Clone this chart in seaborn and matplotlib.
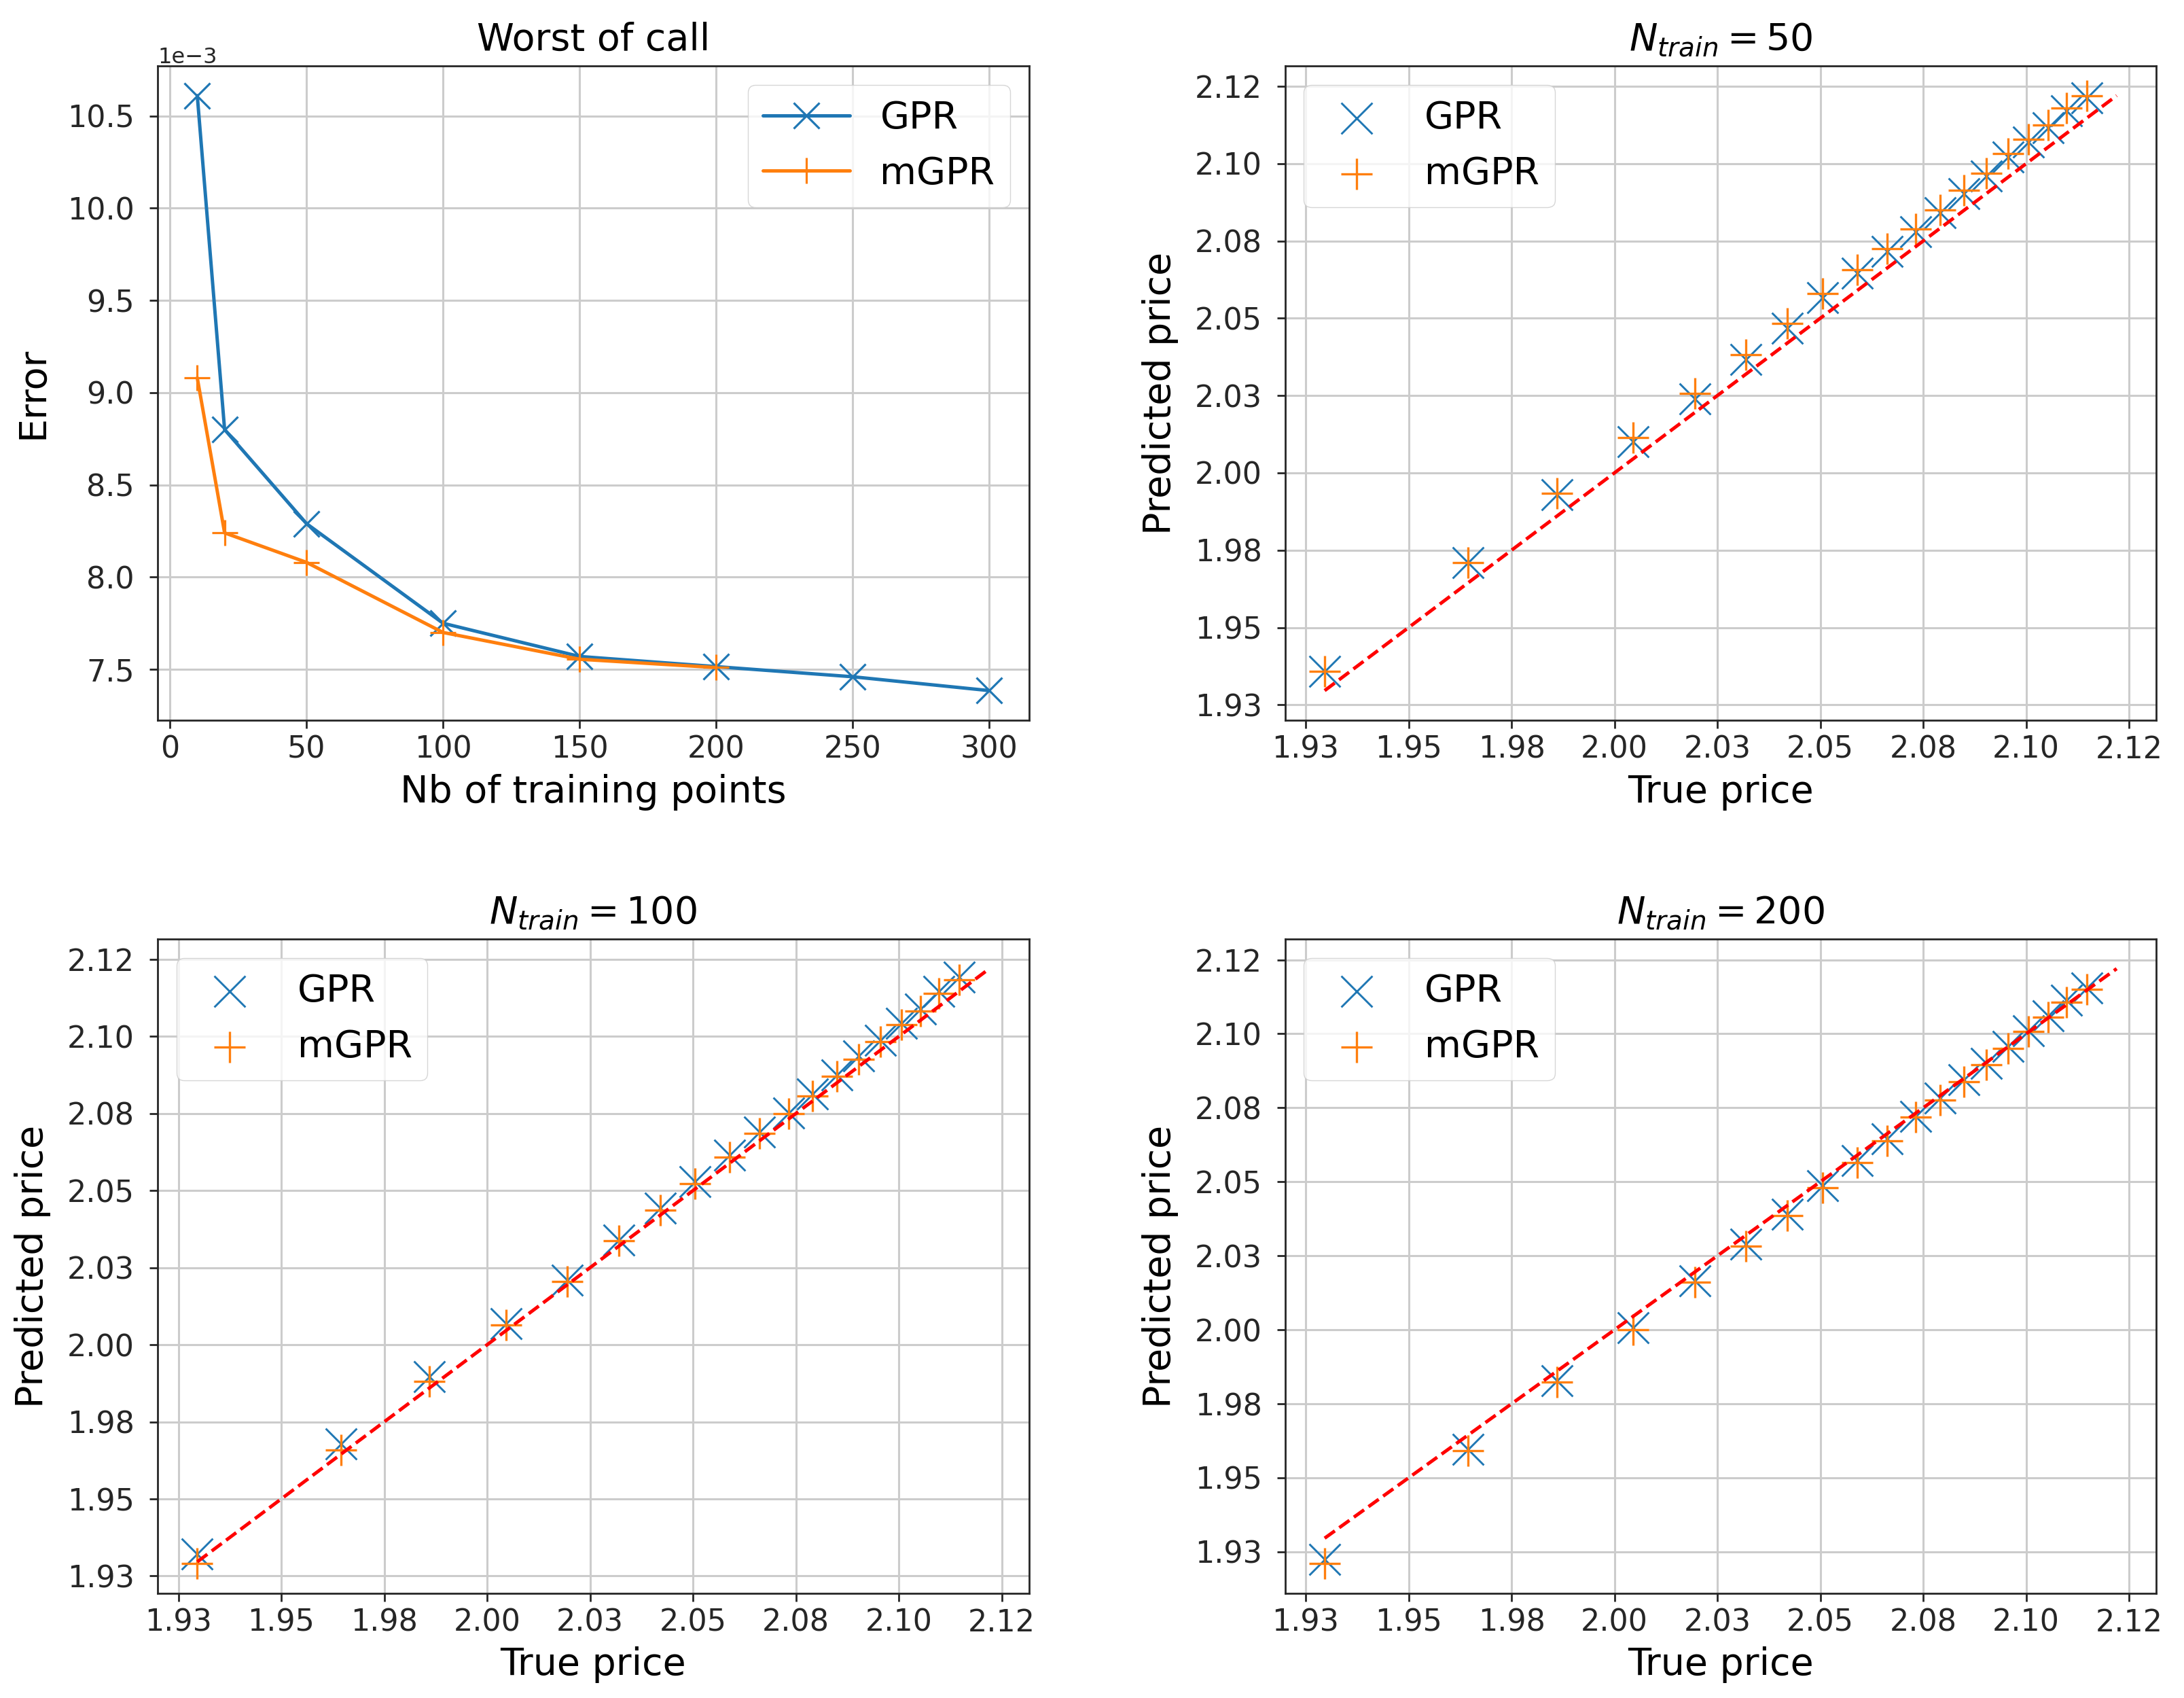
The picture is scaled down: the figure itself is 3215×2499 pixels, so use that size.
import numpy as np
import pandas as pd
import matplotlib
matplotlib.use("Agg")
import matplotlib.pyplot as plt
import seaborn as sns

# ---------------- data ----------------
n_train = [10, 20, 50, 100, 150, 200, 250, 300]
err_gpr = [0.01061, 0.00880, 0.00829, 0.00775, 0.00757, 0.007515, 0.00746, 0.007385]
n_train_m = [10, 20, 50, 100, 150, 200]
err_mgpr = [0.00908, 0.00824, 0.00808, 0.00770, 0.007555, 0.00751]

true_price = [1.9296, 1.9645, 1.9860, 2.0046, 2.0195, 2.0320, 2.0420, 2.0505, 2.0589,
              2.0662, 2.0732, 2.0791, 2.0849, 2.0903, 2.0956, 2.1006, 2.1053, 2.1098, 2.1147]

gpr_50 = [1.9359, 1.9711, 1.9929, 2.0100, 2.0240, 2.0367, 2.0469, 2.0566, 2.0645,
          2.0716, 2.0779, 2.0841, 2.0904, 2.0960, 2.1022, 2.1070, 2.1117, 2.1172, 2.1212]
mgpr_50 = [1.9359, 1.9711, 1.9935, 2.0114, 2.0257, 2.0382, 2.0484, 2.0579, 2.0657,
           2.0726, 2.0789, 2.0851, 2.0914, 2.0969, 2.1032, 2.1079, 2.1125, 2.1180, 2.1219]

gpr_100 = [1.9322, 1.9679, 1.9896, 2.0069, 2.0210, 2.0340, 2.0444, 2.0530, 2.0616,
           2.0690, 2.0751, 2.0814, 2.0875, 2.0937, 2.0988, 2.1042, 2.1090, 2.1146, 2.1192]
mgpr_100 = [1.9290, 1.9658, 1.9882, 2.0064, 2.0206, 2.0337, 2.0437, 2.0523, 2.0609,
            2.0685, 2.0750, 2.0806, 2.0871, 2.0926, 2.0984, 2.1038, 2.1083, 2.1140, 2.1185]

gpr_200 = [1.9224, 1.9596, 1.9828, 2.0007, 2.0165, 2.0290, 2.0390, 2.0486, 2.0571,
           2.0645, 2.0722, 2.0783, 2.0846, 2.0900, 2.0957, 2.1011, 2.1060, 2.1113, 2.1156]
mgpr_200 = [1.9210, 1.9592, 1.9824, 2.0000, 2.0162, 2.0283, 2.0387, 2.0479, 2.0564,
            2.0639, 2.0719, 2.0776, 2.0839, 2.0896, 2.0950, 2.1007, 2.1057, 2.1106, 2.1151]

diag = [1.9296, 2.1220]

price_ticks = [1.925, 1.950, 1.975, 2.000, 2.025, 2.050, 2.075, 2.100, 2.125]
price_labels = ["1.93", "1.95", "1.98", "2.00", "2.03", "2.05", "2.08", "2.10", "2.12"]

panels = [("50", gpr_50, mgpr_50), ("100", gpr_100, mgpr_100), ("200", gpr_200, mgpr_200)]

# ---------------- style ----------------
sns.set_style("whitegrid", rc={
    "axes.edgecolor": ".15",
    "grid.color": ".8",
    "xtick.bottom": True,
    "ytick.left": True,
    "text.color": "black",
    "axes.labelcolor": "black",
    "xtick.color": ".15",
    "ytick.color": ".15",
})
plt.rcParams.update({
    "axes.linewidth": 2.0,
    "grid.linewidth": 2.2,
    "xtick.major.size": 8.5,
    "ytick.major.size": 8.5,
    "xtick.major.width": 2.0,
    "ytick.major.width": 2.0,
    "xtick.major.pad": 7,
    "ytick.major.pad": 16,
    "axes.titlepad": 17,
    "axes.labelpad": 10,
})
plt.rcParams["font.family"] = ["DejaVu Sans"]

BLUE = "#1f77b4"
ORANGE = "#ff7f0e"
TICK_FS = 32
LABEL_FS = 40
LEG_FS = 40

fig = plt.figure(figsize=(32.15, 24.99), dpi=100)
axes = fig.subplots(2, 2)
fig.subplots_adjust(left=0.0722, right=0.9873, bottom=0.0616, top=0.9612,
                    wspace=0.294, hspace=0.334)

# ---- top-left: error curves ----
ax = axes[0, 0]
sns.lineplot(x=n_train, y=err_gpr, ax=ax, color=BLUE, linewidth=3.6, marker="x",
             markersize=28, markeredgewidth=2.3, markeredgecolor=BLUE, label="GPR")
sns.lineplot(x=n_train_m, y=err_mgpr, ax=ax, color=ORANGE, linewidth=3.6, marker="+",
             markersize=28, markeredgewidth=2.3, markeredgecolor=ORANGE, label="mGPR")
ax.ticklabel_format(axis="y", style="sci", scilimits=(-3, -3))
ax.yaxis.get_offset_text().set_fontsize(23)
ax.set_title("Worst of call", fontsize=LABEL_FS)
ax.set_xlabel("Nb of training points", fontsize=LABEL_FS)
ax.set_ylabel("Error", fontsize=LABEL_FS, labelpad=17)
ax.tick_params(labelsize=TICK_FS)
ax.legend(loc="upper right", fontsize=LEG_FS, handlelength=2.3)

# ---- scatter panels ----
for ax, (n, g, m) in zip([axes[0, 1], axes[1, 0], axes[1, 1]], panels):
    sns.scatterplot(x=true_price, y=g, ax=ax, color=BLUE, marker="x", s=1090,
                    linewidth=2.1, label="GPR")
    sns.scatterplot(x=true_price, y=m, ax=ax, color=ORANGE, marker="+", s=1090,
                    linewidth=2.4, label="mGPR")
    sns.lineplot(x=diag, y=diag, ax=ax, color="red", linewidth=3.6, linestyle="--")
    ax.set_xticks(price_ticks, price_labels)
    ax.set_yticks(price_ticks, price_labels)
    ax.set_title(r"$N_{train} = %s$" % n, fontsize=LABEL_FS)
    ax.set_xlabel("True price", fontsize=LABEL_FS)
    ax.set_ylabel("Predicted price", fontsize=LABEL_FS, labelpad=17)
    ax.tick_params(labelsize=TICK_FS)
    ax.legend(loc="upper left", fontsize=LEG_FS)

fig.savefig("out.png", dpi=100)
